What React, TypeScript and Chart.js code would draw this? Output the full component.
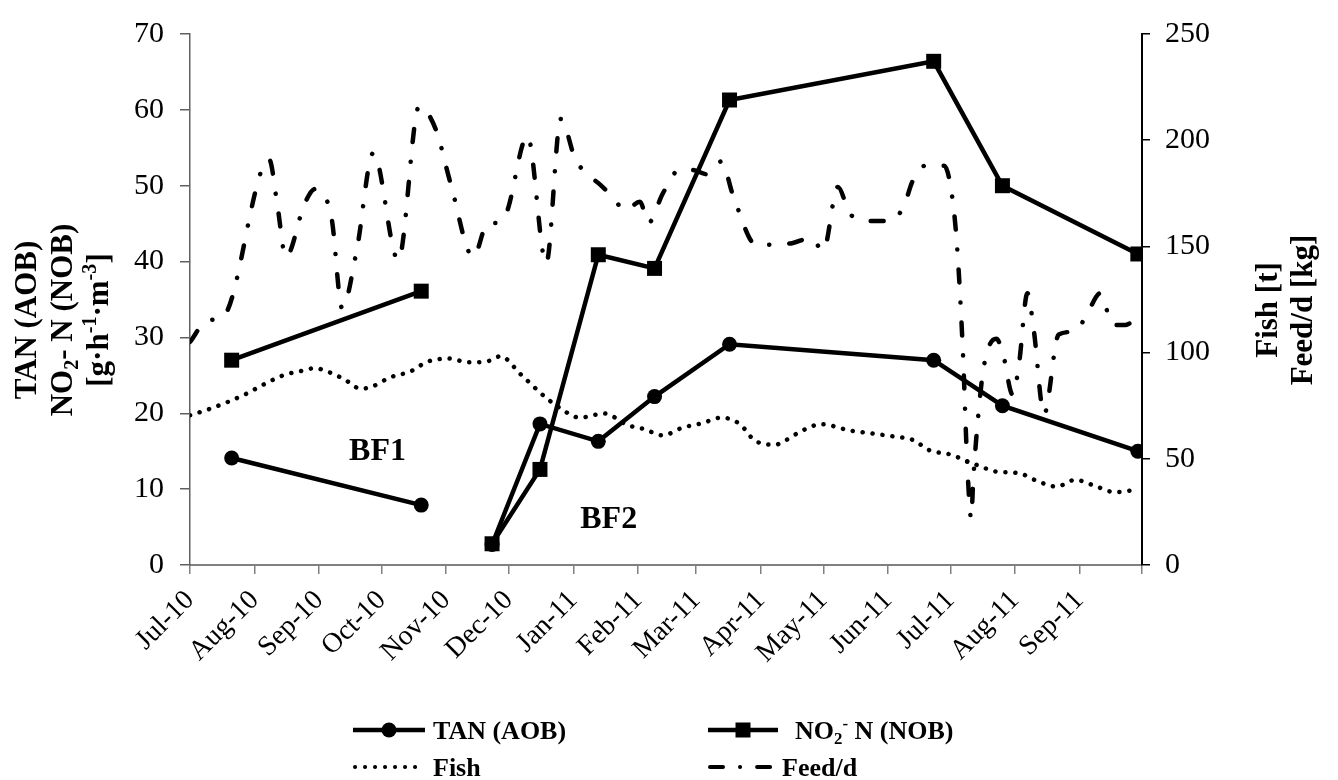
import React, { useEffect, useRef } from 'react';
import { Chart, registerables } from 'chart.js';

Chart.register(...registerables);

// ---- X axis (days since 1 Jul 2010) ----
const monthDays = [0, 31, 62, 92, 123, 153, 184, 215, 243, 274, 304, 335, 365, 396, 427, 457];
const monthLabels = ['Jul-10', 'Aug-10', 'Sep-10', 'Oct-10', 'Nov-10', 'Dec-10', 'Jan-11', 'Feb-11', 'Mar-11', 'Apr-11', 'May-11', 'Jun-11', 'Jul-11', 'Aug-11', 'Sep-11', ''];

// ---- Left axis series [g·h-1·m-3] (null = gap between BF1 and BF2) ----
const tanDays = [20, 111, 128, 145, 168, 196, 223, 259, 357, 390, 455];
const tanValues = [14.1, 7.9, null, 2.7, 18.6, 16.3, 22.2, 29.1, 27.0, 21.0, 15.0];

const no2Days = [20, 111, 128, 145, 168, 196, 223, 259, 357, 390, 455];
const no2Values = [27.0, 36.1, null, 2.8, 12.6, 40.9, 39.1, 61.3, 66.4, 50.0, 41.0];

// ---- Right axis series ----
const fishDays = [0, 8, 18, 27, 36, 45, 55, 60, 64, 74, 82, 87, 96, 106, 114, 124, 134, 144, 149, 159, 170, 178, 187, 199, 210, 218, 227, 236, 246, 255, 264, 271, 281, 285, 294, 303, 317, 327, 337, 347, 355, 365, 373, 379, 387, 398, 407, 416, 425, 434, 444, 455];
const fishValues = [70.5, 73, 76.7, 80.6, 85.3, 89.4, 91.7, 92.7, 91.8, 87.5, 83, 83.8, 88.3, 91.2, 95.7, 97.2, 95.4, 96.2, 98.3, 89.5, 79.5, 73.6, 69.4, 71.3, 65.9, 64, 61, 64.5, 66.8, 69.4, 66.3, 58.7, 56.6, 58.2, 63.3, 66.3, 63.3, 62, 60.6, 58.9, 54, 52, 48.9, 46.6, 44, 43.2, 39.4, 36.9, 40.1, 37.4, 34.3, 35.5];

const feedDays = [0, 8, 16, 38, 42, 46, 55, 60, 68, 73, 80, 88, 100, 110, 118, 125, 136, 143, 147, 152, 162, 171, 178, 185, 192, 197, 203, 209, 216, 220, 227, 235, 241, 248, 255, 261, 272, 281, 289, 298, 304, 311, 317, 327, 337, 343, 347, 353, 362, 365, 368, 371, 373, 375, 376, 378, 381, 387, 390, 395, 398, 402, 405, 410, 417, 425, 431, 437, 443, 449, 452, 456];
const feedValues = [105, 115, 117, 191, 169, 145, 170, 177, 163, 121, 148, 194, 143.5, 216, 205, 180, 145, 161, 161, 166, 202, 142, 210, 191, 183, 179, 173, 167, 171, 161, 175, 186, 186, 184, 190, 173, 150.5, 151, 151.5, 154, 148, 178, 165, 162, 162, 170, 181, 188, 188, 179, 153, 101, 50, 22, 40, 66, 93, 106.5, 100.6, 80, 95, 128, 111, 71, 108.5, 110, 119, 128, 113, 113, 114, 109];

// ---- Text annotations (placed in data coordinates) ----
const annotationTexts = ['BF1', 'BF2'];
const annotationDays = [90, 201];
const annotationValues = [14.9, 6.0];

const FONT = '"Liberation Serif", "Times New Roman", serif';

type Seg = { t: string; s: number; dy: number };

function drawRich(ctx: CanvasRenderingContext2D, segs: Seg[], cx: number, cy: number, rot: number, size: number, bold: boolean, align: 'center' | 'left') {
  ctx.save();
  ctx.translate(cx, cy);
  ctx.rotate(rot);
  ctx.textAlign = 'left';
  ctx.textBaseline = 'alphabetic';
  const widths = segs.map((sg) => {
    ctx.font = `${bold ? 'bold ' : ''}${size * sg.s}px ${FONT}`;
    return ctx.measureText(sg.t).width;
  });
  const total = widths.reduce((a, b) => a + b, 0);
  let px = align === 'center' ? -total / 2 : 0;
  const base = size * 0.34;
  segs.forEach((sg, i) => {
    ctx.font = `${bold ? 'bold ' : ''}${size * sg.s}px ${FONT}`;
    ctx.fillText(sg.t, px, base + sg.dy * size);
    px += widths[i];
  });
  ctx.restore();
}

const overlayPlugin = {
  id: 'overlay',
  afterDraw(chart: any) {
    const ctx: CanvasRenderingContext2D = chart.ctx;
    const xs = chart.scales.x;
    const ys = chart.scales.y;
    ctx.save();
    ctx.fillStyle = '#000';
    ctx.strokeStyle = '#000';

    // annotations
    ctx.font = `bold 32px ${FONT}`;
    ctx.textAlign = 'center';
    ctx.textBaseline = 'middle';
    annotationTexts.forEach((t, i) => {
      ctx.fillText(t, xs.getPixelForValue(annotationDays[i]), ys.getPixelForValue(annotationValues[i]));
    });

    // left axis title
    const ts = 31;
    const rot = -Math.PI / 2;
    const cyL = 320;
    drawRich(ctx, [{ t: 'TAN (AOB)', s: 1, dy: 0 }], 25, cyL, rot, ts, true, 'center');
    drawRich(ctx, [
      { t: 'NO', s: 1, dy: 0 },
      { t: '2', s: 0.65, dy: 0.2 },
      { t: '- N (NOB)', s: 1, dy: 0 },
    ], 61, cyL, rot, ts, true, 'center');
    drawRich(ctx, [
      { t: '[g·h', s: 1, dy: 0 },
      { t: '-1', s: 0.65, dy: -0.38 },
      { t: '·m', s: 1, dy: 0 },
      { t: '-3', s: 0.65, dy: -0.38 },
      { t: ']', s: 1, dy: 0 },
    ], 97, cyL, rot, ts, true, 'center');

    // right axis title
    const cyR = 310;
    drawRich(ctx, [{ t: 'Fish [t]', s: 1, dy: 0 }], 1266, cyR, rot, ts, true, 'center');
    drawRich(ctx, [{ t: 'Feed/d [kg]', s: 1, dy: 0 }], 1301, cyR, rot, ts, true, 'center');

    // legend
    const r1 = 730;
    const r2 = 767;
    const c1a = 353, c1b = 425, c1t = 433;
    const c2a = 708, c2b = 778, c2t = 782;
    const ls = 26;
    ctx.lineWidth = 4.5;
    ctx.lineCap = 'butt';
    ctx.setLineDash([]);
    // TAN
    ctx.beginPath(); ctx.moveTo(c1a, r1); ctx.lineTo(c1b, r1); ctx.stroke();
    ctx.beginPath(); ctx.arc((c1a + c1b) / 2, r1, 7.5, 0, Math.PI * 2); ctx.fill();
    drawRich(ctx, [{ t: 'TAN (AOB)', s: 1, dy: 0 }], c1t, r1, 0, ls, true, 'left');
    // NO2
    ctx.beginPath(); ctx.moveTo(c2a, r1); ctx.lineTo(c2b, r1); ctx.stroke();
    ctx.fillRect((c2a + c2b) / 2 - 7.5, r1 - 7.5, 15, 15);
    drawRich(ctx, [
      { t: '  NO', s: 1, dy: 0 },
      { t: '2', s: 0.65, dy: 0.2 },
      { t: '-', s: 0.65, dy: -0.38 },
      { t: ' N (NOB)', s: 1, dy: 0 },
    ], c2t, r1, 0, ls, true, 'left');
    // Fish
    ctx.lineCap = 'round';
    ctx.lineWidth = 4;
    ctx.setLineDash([0.1, 9.9]);
    ctx.beginPath(); ctx.moveTo(c1a + 2, r2); ctx.lineTo(c1b - 4, r2); ctx.stroke();
    drawRich(ctx, [{ t: 'Fish', s: 1, dy: 0 }], c1t, r2, 0, ls, true, 'left');
    // Feed
    ctx.setLineDash([13, 17, 0.1, 17]);
    ctx.beginPath(); ctx.moveTo(c2a + 2, r2); ctx.lineTo(c2b - 2, r2); ctx.stroke();
    ctx.setLineDash([]);
    drawRich(ctx, [{ t: 'Feed/d', s: 1, dy: 0 }], c2t, r2, 0, ls, true, 'left');

    ctx.restore();
  },
};

export default function App() {
  const ref = useRef<HTMLCanvasElement | null>(null);

  useEffect(() => {
    if (!ref.current) return;
    const xFont = { family: FONT, size: 28 };
    const yFont = { family: FONT, size: 30 };
    const chart = new Chart(ref.current, {
      type: 'line',
      data: {
        datasets: [
          {
            label: 'NO2- N (NOB)',
            data: no2Days.map((d, i) => ({ x: d, y: no2Values[i] })) as any,
            yAxisID: 'y',
            borderColor: '#000',
            backgroundColor: '#000',
            borderWidth: 4.5,
            pointStyle: 'rect',
            pointRadius: 10.6,
            pointBorderWidth: 0,
            spanGaps: false,
            tension: 0,
          },
          {
            label: 'TAN (AOB)',
            data: tanDays.map((d, i) => ({ x: d, y: tanValues[i] })) as any,
            yAxisID: 'y',
            borderColor: '#000',
            backgroundColor: '#000',
            borderWidth: 4.5,
            pointStyle: 'circle',
            pointRadius: 7.5,
            pointBorderWidth: 0,
            spanGaps: false,
            tension: 0,
          },
          {
            label: 'Fish',
            data: fishDays.map((d, i) => ({ x: d, y: fishValues[i] })) as any,
            yAxisID: 'y1',
            borderColor: '#000',
            borderWidth: 4.5,
            borderDash: [0.1, 9.9],
            borderCapStyle: 'round',
            pointRadius: 0,
            cubicInterpolationMode: 'monotone',
          },
          {
            label: 'Feed/d',
            data: feedDays.map((d, i) => ({ x: d, y: feedValues[i] })) as any,
            yAxisID: 'y1',
            borderColor: '#000',
            borderWidth: 4.5,
            borderDash: [13, 20, 0.1, 20],
            borderCapStyle: 'round',
            pointRadius: 0,
            cubicInterpolationMode: 'monotone',
          },
        ],
      },
      options: {
        animation: false,
        responsive: false,
        maintainAspectRatio: false,
        layout: { padding: { top: 25, left: 0, right: 0, bottom: 0 } },
        plugins: { legend: { display: false }, tooltip: { enabled: false } },
        scales: {
          x: {
            type: 'linear',
            min: 0,
            max: 457,
            afterBuildTicks: (s: any) => {
              s.ticks = monthDays.map((v) => ({ value: v }));
            },
            afterFit: (s: any) => {
              s.height = 215;
            },
            ticks: {
              autoSkip: false,
              minRotation: 45,
              maxRotation: 45,
              font: xFont,
              color: '#000',
              padding: 10,
              callback: (_v: any, i: number) => monthLabels[i],
            },
            grid: { drawOnChartArea: false, drawTicks: true, tickLength: 9, color: '#808080', lineWidth: 1.5 },
            border: { display: true, color: '#808080', width: 2 },
          },
          y: {
            position: 'left',
            min: 0,
            max: 70,
            afterFit: (s: any) => {
              s.width = 190;
            },
            ticks: { stepSize: 10, font: yFont, color: '#000', padding: 16 },
            grid: { drawOnChartArea: false, drawTicks: true, tickLength: 10, color: '#606060', lineWidth: 1.5 },
            border: { display: true, color: '#606060', width: 1.5 },
          },
          y1: {
            position: 'right',
            min: 0,
            max: 250,
            afterFit: (s: any) => {
              s.width = 196;
            },
            ticks: { stepSize: 50, font: yFont, color: '#000', padding: 15 },
            grid: { drawOnChartArea: false, drawTicks: true, tickLength: 8, color: '#000', lineWidth: 1.5 },
            border: { display: true, color: '#000', width: 2 },
          },
        },
      } as any,
      plugins: [overlayPlugin],
    });
    return () => chart.destroy();
  }, []);

  return (
    <div style={{ position: 'absolute', left: 0, top: 0, width: 1338, height: 780, background: '#fff' }}>
      <canvas ref={ref} width={1338} height={780} style={{ display: 'block', width: 1338, height: 780 }} />
    </div>
  );
}
